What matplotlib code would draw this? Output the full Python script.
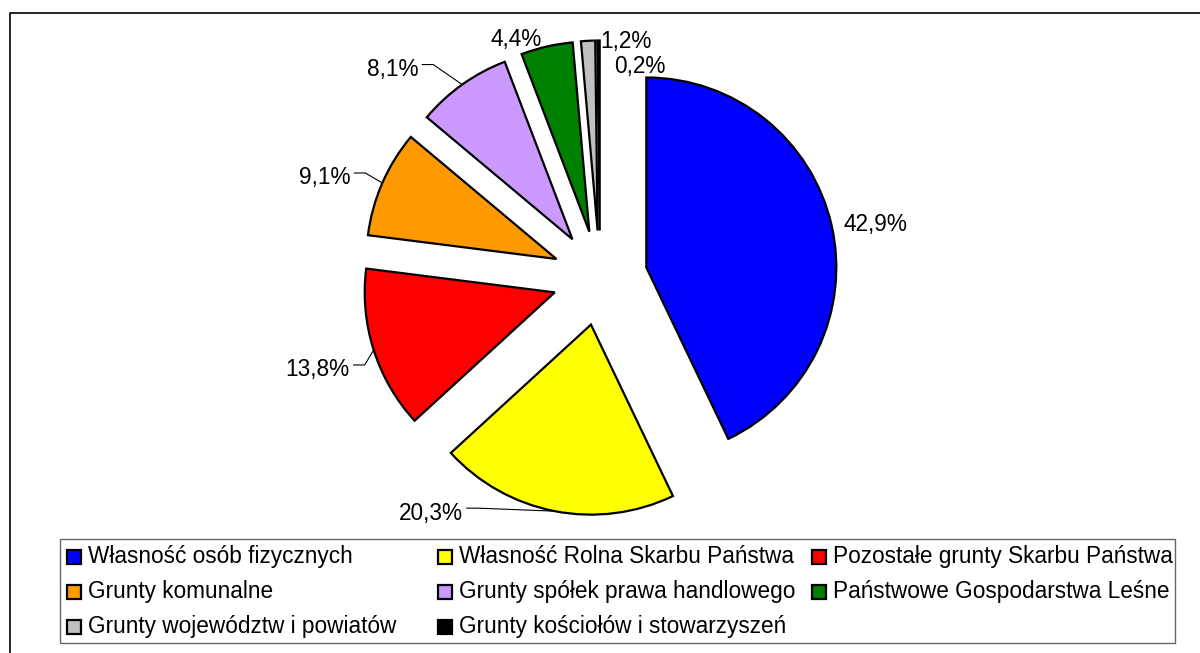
import matplotlib
matplotlib.use("Agg")
import matplotlib.pyplot as plt
from matplotlib.patches import Rectangle
import numpy as np

plt.rcParams['font.family'] = ['Liberation Sans', 'DejaVu Sans']

categories = ["Własność osób fizycznych", "Własność Rolna Skarbu Państwa",
              "Pozostałe grunty Skarbu Państwa", "Grunty komunalne",
              "Grunty spółek prawa handlowego", "Państwowe Gospodarstwa Leśne",
              "Grunty województw i powiatów", "Grunty kościołów i stowarzyszeń"]
values = [42.9, 20.3, 13.8, 9.1, 8.1, 4.4, 1.2, 0.2]
labels = ["42,9%", "20,3%", "13,8%", "9,1%", "8,1%", "4,4%", "1,2%", "0,2%"]
colors = ["#0000FF", "#FFFF00", "#FF0000", "#FF9900", "#CC99FF", "#008000",
          "#C0C0C0", "#000000"]

W, H = 1200, 653
fig = plt.figure(figsize=(W / 100, H / 100), dpi=100)
ax = fig.add_axes([0, 0, 1, 1])

def Y(y):  # pixel (top-down) to data
    return H - y

cx, cy, R = 600, Y(278), 190
wedges, _ = ax.pie(values, colors=colors, startangle=90, counterclock=False,
                   explode=[0.25 * R] * len(values), radius=R, center=(cx, cy),
                   wedgeprops=dict(edgecolor='black', linewidth=1.6))
ax.set_xlim(0, W)
ax.set_ylim(0, H)
ax.set_aspect('equal')
ax.axis('off')

# label layout: horizontal alignment, offset (px, y down) from wedge outer mid point
lab_ha = ['left', 'right', 'right', 'right', 'right', 'right', 'left', 'left']
lab_dx = [12, -92, -24, -32, -44, -5, 12, 16]
lab_dy = [-1, 2, 20, -5, -15, -7, 1, 26]
leader = [False, True, True, True, True, False, False, False]
fs = 16.3

for w, lab, ha, dx, dy, ld in zip(wedges, labels, lab_ha, lab_dx, lab_dy, leader):
    mid = np.deg2rad((w.theta1 + w.theta2) / 2)
    ox = w.center[0] + w.r * np.cos(mid)
    oy = w.center[1] + w.r * np.sin(mid)
    tx, ty = ox + dx, oy - dy
    ax.text(tx, ty, lab, ha=ha, va='center', fontsize=fs, color='black')
    if ld:
        sx = tx + 4
        sy = ty + 5
        ax.plot([sx, sx + 11, ox], [sy, sy, oy], color='black', lw=0.8)

# outer chart border (left & top visible)
ax.plot([10, 10, W + 5], [Y(H + 5), Y(13), Y(13)], color='black', lw=1.2,
        clip_on=False)

# legend
ax.add_patch(Rectangle((60, Y(643)), 1175 - 60, 643 - 539, facecolor='white',
                       edgecolor='#666666', lw=1.0))
col_x = [67, 438, 812]
row_y = [556.5, 591.5, 626.5]
for i, (cat, col) in enumerate(zip(categories, colors)):
    r, c = divmod(i, 3)
    x0, y0 = col_x[c], row_y[r]
    ax.add_patch(Rectangle((x0, Y(y0) - 7), 14, 14, facecolor=col,
                           edgecolor='black', lw=1.6))
    ax.text(x0 + 21, Y(y0), cat, ha='left', va='center', fontsize=fs,
            color='black')

fig.savefig("out.png", dpi=100)
